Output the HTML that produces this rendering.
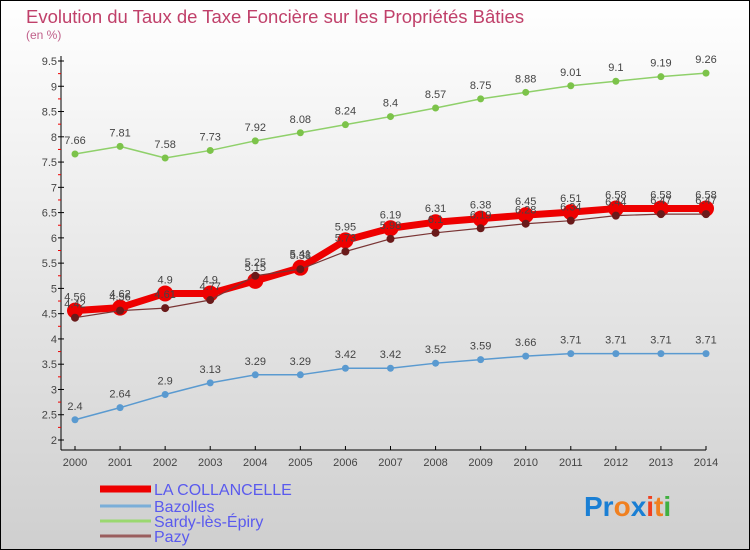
<!DOCTYPE html>
<html><head><meta charset="utf-8"><style>
html,body{margin:0;padding:0}
body{width:750px;height:550px;overflow:hidden;font-family:"Liberation Sans",sans-serif}
svg{display:block}
</style></head><body>
<svg width="750" height="550" xmlns="http://www.w3.org/2000/svg">
<defs><linearGradient id="bg" x1="0" y1="0" x2="0" y2="1"><stop offset="0" stop-color="#ffffff"/><stop offset="1" stop-color="#cfcfcf"/></linearGradient></defs>
<rect x="0.5" y="0.5" width="749" height="549" fill="url(#bg)" stroke="#000"/>
<text x="26" y="23" font-size="18.5" fill="#c0406a">Evolution du Taux de Taxe Foncière sur les Propriétés Bâties</text>
<text x="26" y="39" font-size="12" fill="#c0608a">(en %)</text>
<g id="axes"></g>
<g id="series"></g>
<g id="legend"></g>
<text x="584" y="516" font-size="28" font-weight="bold"><tspan fill="#1a7fd4">Pr</tspan><tspan fill="#f08020">o</tspan><tspan fill="#1a7fd4">x</tspan><tspan fill="#f04020">i</tspan><tspan fill="#f08020">t</tspan><tspan fill="#40b040">i</tspan></text>
</svg>
<script>
const years=[2000,2001,2002,2003,2004,2005,2006,2007,2008,2009,2010,2011,2012,2013,2014];
const collancelle=[4.56,4.62,4.9,4.9,5.15,5.41,5.95,6.19,6.31,6.38,6.45,6.51,6.58,6.58,6.58];
const bazolles=[2.4,2.64,2.9,3.13,3.29,3.29,3.42,3.42,3.52,3.59,3.66,3.71,3.71,3.71,3.71];
const sardy=[7.66,7.81,7.58,7.73,7.92,8.08,8.24,8.4,8.57,8.75,8.88,9.01,9.1,9.19,9.26];
const pazy=[4.42,4.56,4.61,4.77,5.25,5.38,5.73,5.98,6.1,6.19,6.28,6.34,6.44,6.47,6.47];
const yTicks=[2,2.5,3,3.5,4,4.5,5,5.5,6,6.5,7,7.5,8,8.5,9,9.5];
const NS="http://www.w3.org/2000/svg";
const X=i=>75+i*(706-75)/(years.length-1);
const Y=v=>440-(v-2)*(440-61)/7.5;
function mk(t,a,p){const e=document.createElementNS(NS,t);for(const k in a)e.setAttribute(k,a[k]);p.appendChild(e);return e;}
const ax=document.getElementById('axes');
let l=mk('line',{x1:61,y1:56,x2:61,y2:450,stroke:'#000'},ax);


l=mk('line',{x1:61,y1:450,x2:706,y2:450,stroke:'#000'},ax);


yTicks.forEach(v=>{
 mk('line',{x1:58,y1:Y(v),x2:64,y2:Y(v),stroke:'#000'},ax);
 if(v<9.5) mk('line',{x1:58,y1:Y(v+0.25),x2:61,y2:Y(v+0.25),stroke:'#e00'},ax);
 const t=mk('text',{x:57,y:Y(v)+4,'font-size':11,fill:'#444','text-anchor':'end'},ax);t.textContent=v;
 
 
});
years.forEach((y,i)=>{
 mk('line',{x1:X(i),y1:446,x2:X(i),y2:450,stroke:'#000'},ax);
 const t=mk('text',{x:X(i),y:466,'font-size':11,fill:'#444','text-anchor':'middle'},ax);t.textContent=y;
 
 
});
const sg=document.getElementById('series');
function draw(data,color,w,r,name,dot,labelDy){
 const g=mk('g',{},sg);
 
 
 mk('polyline',{points:data.map((v,i)=>X(i)+','+Y(v)).join(' '),fill:'none',stroke:color,'stroke-width':w,'stroke-linejoin':'round'},g);
 data.forEach((v,i)=>{
  const c=mk('circle',{cx:X(i),cy:Y(v),r:r,fill:dot},g);
  
  
  const t=mk('text',{x:X(i),y:Y(v)+labelDy,'font-size':11,fill:'#444','text-anchor':'middle'},g);t.textContent=v;
 });
}
draw(bazolles,'#5a9ad0',1.5,3.5,'series-bazolles','#5a9ad0',-10);
draw(sardy,'#8fd06a',1.5,3.5,'series-sardy','#7cc34a',-10);
draw(collancelle,'#ee0000',7,8,'series-la-collancelle','#ee0000',-10);
draw(pazy,'#7a3535',1.2,4,'series-pazy','#6a1a1a',-10);
const lg=document.getElementById('legend');
const names=['LA COLLANCELLE','Bazolles','Sardy-lès-Épiry','Pazy'];
const cols=['#ee0000','#7aaed8','#9ad870','#9a5e5e'];
const ws=[7,3,3,3];
const ly=[493,510,525,540];
names.forEach((n,i)=>{
 const g=mk('g',{},lg);
 
 
 mk('line',{x1:100,y1:ly[i]-4,x2:151,y2:ly[i]-4,stroke:cols[i],'stroke-width':ws[i]},g);
 const t=mk('text',{x:154,y:ly[i]+2,'font-size':16,fill:'#5a5aee'},g);t.textContent=n;
});
</script>
</body></html>
